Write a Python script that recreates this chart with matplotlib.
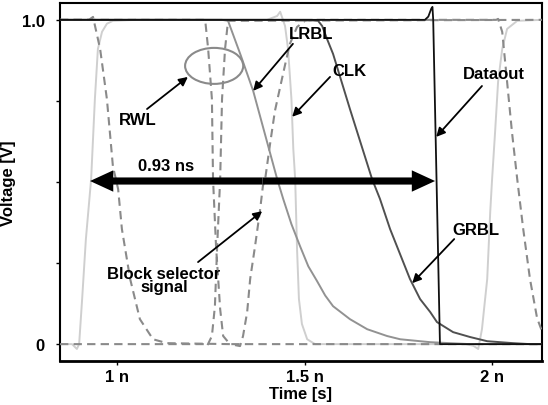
#!/usr/bin/env python3

import matplotlib
matplotlib.use('Agg')
import matplotlib.pyplot as plt
from matplotlib.patches import Ellipse


# ---------------------------------------------------------#
# Waveforms (t in ns, V in V) #
# ---------------------------------------------------------#
clk_t = [0.848, 0.880, 0.893, 0.899, 0.907, 0.917, 0.931, 0.941, 0.949, 0.960,
         0.973, 0.989, 1.050, 1.400, 1.427, 1.435, 1.448, 1.456, 1.465, 1.470,
         1.475, 1.480, 1.485, 1.493, 1.507, 1.528, 1.600, 1.930, 1.950, 1.963,
         1.973, 1.987, 1.995, 2.000, 2.008, 2.016, 2.027, 2.040, 2.067, 2.133]
clk_v = [0.0, 0.0, -0.015, 0.0, 0.139, 0.324, 0.509, 0.756, 0.910, 0.963,
         0.988, 0.997, 1.0, 1.0, 1.012, 1.025, 0.981, 0.910, 0.756, 0.602,
         0.509, 0.293, 0.139, 0.062, 0.015, 0.0, 0.0, 0.0, -0.005, -0.015,
         0.046, 0.201, 0.407, 0.509, 0.654, 0.809, 0.910, 0.972, 0.997, 1.0]

blk_t = [0.848, 0.925, 0.936, 0.955, 0.973, 0.989, 1.003, 1.013, 1.035, 1.061,
         1.096, 1.133, 1.301, 1.328, 1.336, 1.347, 1.355, 1.368, 1.381, 1.389,
         1.395, 1.408, 1.421, 1.435, 1.448, 1.461, 1.480, 1.501, 1.528, 2.011,
         2.016, 2.027, 2.040, 2.053, 2.067, 2.083, 2.101, 2.120, 2.133]
blk_v = [1.0, 1.0, 1.009, 0.910, 0.756, 0.549, 0.478, 0.355, 0.201, 0.077,
         0.015, 0.003, 0.0, -0.006, 0.025, 0.099, 0.201, 0.302, 0.410, 0.488,
         0.509, 0.617, 0.719, 0.793, 0.861, 0.926, 0.978, 0.997, 1.0, 1.0,
         1.003, 0.963, 0.809, 0.654, 0.509, 0.355, 0.201, 0.080, 0.040]

rwl_fall_t = [0.848, 1.235, 1.243, 1.253, 1.256, 1.264, 1.275, 1.283, 1.301, 2.133]
rwl_fall_v = [1.0, 1.0, 0.910, 0.756, 0.509, 0.302, 0.108, 0.025, 0.0, 0.0]

rwl_rise_t = [0.848, 1.235, 1.240, 1.253, 1.261, 1.267, 1.275, 1.280, 1.288, 1.296, 2.133]
rwl_rise_v = [0.0, 0.0, -0.006, 0.025, 0.117, 0.302, 0.509, 0.756, 0.910, 0.997, 1.0]

lrbl_t = [0.848, 1.280, 1.296, 1.330, 1.363, 1.395, 1.427, 1.443, 1.465, 1.488,
          1.510, 1.533, 1.555, 1.576, 1.621, 1.667, 1.720, 1.755, 1.835, 1.941, 2.133]
lrbl_v = [1.0, 1.0, 0.997, 0.89, 0.781, 0.645, 0.509, 0.448, 0.370, 0.302,
          0.240, 0.195, 0.150, 0.117, 0.077, 0.046, 0.025, 0.015, 0.006, 0.0, 0.0]

grbl_t = [0.848, 1.520, 1.536, 1.547, 1.560, 1.576, 1.621, 1.680, 1.701, 1.728,
          1.781, 1.808, 1.835, 1.853, 1.896, 1.941, 1.987, 2.056, 2.101, 2.133]
grbl_v = [1.0, 1.0, 0.997, 0.981, 0.941, 0.895, 0.725, 0.509, 0.448, 0.355,
          0.201, 0.139, 0.099, 0.068, 0.037, 0.022, 0.009, 0.003, 0.0, 0.0]

dout_t = [0.848, 1.821, 1.830, 1.838, 1.841, 1.843, 1.861, 1.866, 2.133]
dout_v = [1.0, 1.0, 1.01, 1.035, 1.04, 1.0, 0.0, 0.0, 0.0]

x_ticks       = [1.0, 1.5, 2.0]
x_tick_labels = ['1 n', '1.5 n', '2 n']
y_ticks       = [0.0, 0.25, 0.5, 0.75, 1.0]
y_tick_labels = ['0', '', '', '', '1.0']

span_start = 0.928      # 0.93 ns marker
span_end   = 1.848
span_level = 0.503


# ---------------------------------------------------------#
# Plot                                                     #
# ---------------------------------------------------------#
plt.rcParams['font.family'] = ['Liberation Sans', 'DejaVu Sans']
plt.rcParams['font.weight'] = 'bold'
plt.rcParams['axes.labelweight'] = 'bold'
plt.rcParams['font.size'] = 12

fig = plt.figure(figsize=(5.48, 4.06), dpi=100)
ax = fig.add_axes([0.1095, 0.1084, 0.8795, 0.8818])

dash = dict(color='#8a8a8a', lw=1.5, dashes=(4, 2.5))
ax.plot(clk_t, clk_v, color='#cfcfcf', lw=1.4, zorder=2)
ax.plot(rwl_fall_t, rwl_fall_v, zorder=3, **dash)
ax.plot(rwl_rise_t, rwl_rise_v, zorder=3, **dash)
ax.plot(blk_t, blk_v, zorder=3, **dash)
ax.plot(lrbl_t, lrbl_v, color='#929292', lw=1.4, zorder=4)
ax.plot(grbl_t, grbl_v, color='#505050', lw=1.4, zorder=5)
ax.plot(dout_t, dout_v, color='#111111', lw=1.3, zorder=6)

ax.set_xlim(0.848, 2.133)
ax.set_ylim(-0.052, 1.052)
ax.set_xticks(x_ticks)
ax.set_xticklabels(x_tick_labels)
ax.set_yticks(y_ticks)
ax.set_yticklabels(y_tick_labels)
ax.tick_params(direction='out', length=3, width=1, pad=3)
ax.tick_params(axis='y', pad=8)
for s in ax.spines.values():
    s.set_linewidth(1.5)
ax.spines['bottom'].set_linewidth(2)

ax.set_xlabel('Time [s]', labelpad=1)
ax.set_ylabel('Voltage [V]', labelpad=4)

# thick double arrow: 0.93 ns
mid = (span_start + span_end) / 2
for end in (span_start, span_end):
    ax.arrow(mid, span_level, end - mid, 0, width=0.022, head_width=0.066,
             head_length=0.062, length_includes_head=True, color='black',
             lw=0, zorder=8)
ax.text(1.13, 0.552, '0.93 ns', ha='center', va='center', zorder=9)

# labels with arrows
arrow_kw = dict(arrowstyle='-|>', color='black', lw=1.3, mutation_scale=13,
                shrinkA=0, shrinkB=0)
labels = [
    ('RWL',                   (1.056, 0.694), (1.080, 0.725), (1.189, 0.824)),
    ('LRBL',                  (1.517, 0.957), (1.469, 0.926), (1.363, 0.781)),
    ('CLK',                   (1.621, 0.843), (1.568, 0.824), (1.467, 0.701)),
    ('Dataout',               (2.005, 0.833), (1.973, 0.796), (1.851, 0.639)),
    ('GRBL',                  (1.957, 0.352), (1.899, 0.324), (1.787, 0.188)),
    ('Block selector\nsignal', (1.125, 0.198), (1.216, 0.253), (1.387, 0.410)),
]
for txt, pos, start, tip in labels:
    ax.text(pos[0], pos[1], txt, ha='center', va='center', linespacing=0.9,
            zorder=9)
    ax.annotate('', xy=tip, xytext=start, arrowprops=arrow_kw, zorder=9)

ax.add_patch(Ellipse((1.259, 0.858), 0.155, 0.111, fill=False,
                     edgecolor='#8a8a8a', lw=1.5, zorder=7))

fig.savefig('out.png', dpi=100)
